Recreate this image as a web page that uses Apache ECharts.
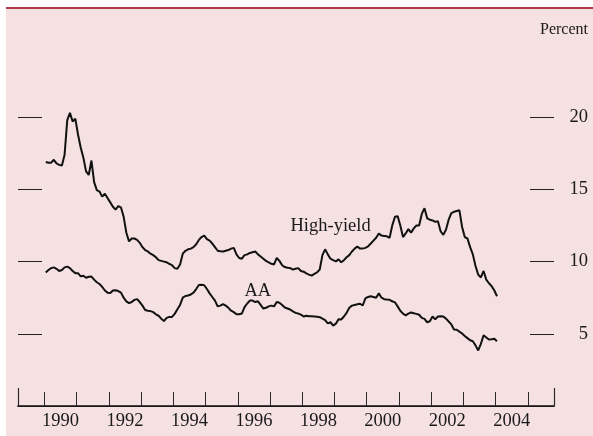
<!DOCTYPE html>
<html>
<head>
<meta charset="utf-8">
<script src="https://cdn.jsdelivr.net/npm/echarts@6/dist/echarts.min.js"></script>
<style>
  html, body { margin: 0; padding: 0; background: #ffffff; }
  #wrap { position: relative; width: 593px; height: 436px; background: #ffffff; overflow: hidden; }
  #panel { position: absolute; left: 6px; top: 7px; right: 0; bottom: 0; background: #f5e1e1; border-top: 2px solid #b13a4f; }
  #chart { position: absolute; left: 0; top: 0; width: 593px; height: 436px; }
</style>
</head>
<body>
<div id="wrap"><div id="panel"></div><div id="chart"></div></div>
<script>
// Monthly yields, percent, starting January 1990
const startYear = 1990;
const highYield = [
  16.9, 16.85, 16.85, 17.05, 16.8, 16.7, 16.65, 17.4, 19.8, 20.3, 19.7, 19.9,
  18.8, 17.9, 17.2, 16.25, 16.0, 17.0, 15.5, 14.95, 14.85, 14.5, 14.7, 14.4,
  14.1, 13.8, 13.6, 13.85, 13.75, 13.1, 12.0, 11.4, 11.6, 11.6, 11.5, 11.3,
  11.0, 10.8, 10.7, 10.55, 10.45, 10.3, 10.1, 10.05, 10.0, 9.95, 9.85, 9.75,
  9.55, 9.5, 9.8, 10.55, 10.75, 10.85, 10.9, 11.0, 11.2, 11.5, 11.7, 11.8,
  11.55, 11.45, 11.25, 11.0, 10.75, 10.72, 10.7, 10.75, 10.8, 10.9, 10.95, 10.5,
  10.25, 10.2, 10.45, 10.5, 10.6, 10.65, 10.7, 10.5, 10.35, 10.2, 10.05, 9.95,
  9.85, 9.8, 10.25, 10.05, 9.75, 9.62, 9.58, 9.55, 9.45, 9.5, 9.55, 9.35,
  9.3, 9.18, 9.1, 9.03, 9.15, 9.25, 9.45, 10.45, 10.85, 10.5, 10.2, 10.1,
  10.02, 10.15, 9.95, 10.1, 10.3, 10.45, 10.7, 10.9, 11.05, 10.9, 10.9, 10.95,
  11.05, 11.25, 11.45, 11.65, 11.95, 11.8, 11.78, 11.75, 11.65, 12.5, 13.1, 13.15,
  12.5, 11.7, 11.95, 12.25, 12.0, 12.3, 12.5, 12.5, 13.3, 13.7, 13.0, 12.9,
  12.85, 12.75, 12.8, 12.1, 11.85, 12.2, 12.9, 13.35, 13.45, 13.5, 13.55, 12.4,
  11.7, 11.6, 11.0, 10.5, 9.7, 9.1, 8.9, 9.35, 8.75, 8.5, 8.3, 8.0, 7.6
];
const aa = [
  9.25, 9.42, 9.55, 9.6, 9.5, 9.35, 9.42, 9.6, 9.65, 9.55, 9.35, 9.2,
  9.2, 8.98, 9.02, 8.88, 8.95, 8.96, 8.75, 8.57, 8.45, 8.25, 8.0, 7.85,
  7.82, 8.0, 8.02, 7.96, 7.85, 7.5, 7.25, 7.12, 7.2, 7.35, 7.4, 7.2,
  6.95, 6.65, 6.6, 6.57, 6.5, 6.35, 6.25, 6.05, 5.88, 6.1, 6.17, 6.17,
  6.38, 6.7, 7.0, 7.5, 7.62, 7.65, 7.72, 7.85, 8.1, 8.38, 8.4, 8.36,
  8.1, 7.8, 7.55, 7.3, 6.9, 6.95, 7.05, 6.95, 6.8, 6.6, 6.5, 6.35,
  6.35, 6.4, 6.85, 7.1, 7.3, 7.3, 7.2, 7.25, 7.0, 6.75, 6.8, 6.9,
  6.95, 6.9, 7.2, 7.15, 7.0, 6.82, 6.75, 6.68, 6.55, 6.45, 6.4, 6.33,
  6.2, 6.25, 6.22, 6.21, 6.2, 6.18, 6.15, 6.05, 5.95, 5.72, 5.8, 5.57,
  5.7, 6.0, 5.99, 6.2, 6.45, 6.8, 6.95, 7.0, 7.05, 7.08, 6.96, 7.45,
  7.55, 7.6, 7.55, 7.5, 7.8, 7.5, 7.4, 7.37, 7.35, 7.25, 7.18, 6.9,
  6.6, 6.4, 6.28, 6.4, 6.48, 6.42, 6.38, 6.32, 6.1, 6.03, 5.8, 5.87,
  6.2, 6.0, 6.2, 6.22, 6.2, 6.05, 5.85, 5.65, 5.3, 5.28, 5.15, 5.02,
  4.85, 4.7, 4.55, 4.48, 4.2, 3.85, 4.3, 4.9, 4.75, 4.6, 4.62, 4.65, 4.48
];
const xTickYears = [1990, 1991, 1992, 1993, 1994, 1995, 1996, 1997, 1998, 1999, 2000, 2001, 2002, 2003, 2004, 2005];
const xLabelYears = [1990, 1992, 1994, 1996, 1998, 2000, 2002, 2004];
const yTickValues = [5, 10, 15, 20];
const xMin = 1989.18, xMax = 2005.81;
const yMin = 0, yMax = 25, yStep = 5;

function toPairs(vals) {
  return vals.map((v, i) => [startYear + (i + 0.5) / 12, v]);
}

const FONT = '"Liberation Serif", "Times New Roman", serif';
const chart = echarts.init(document.getElementById('chart'), null, { renderer: 'canvas' });
chart.setOption({
  backgroundColor: 'transparent',
  animation: false,
  grid: { left: 18, right: 39, top: 45, bottom: 30, containLabel: false },
  xAxis: [
    {
      type: 'value', min: xMin, max: xMax, position: 'bottom',
      axisLine: { show: true, lineStyle: { color: '#2a2a2a', width: 1.2 } },
      axisTick: { show: true, inside: true, length: 14, customValues: xTickYears, lineStyle: { color: '#2a2a2a', width: 1 } },
      axisLabel: {
        show: true, margin: 6, customValues: xLabelYears.map(y => y + 0.5),
        formatter: v => String(xLabelYears.find(y => Math.abs(y + 0.5 - v) < 0.01)),
        fontFamily: FONT, fontSize: 18.5, color: '#1a1a1a'
      },
      splitLine: { show: false }
    },
    {
      type: 'value', min: xMin, max: xMax, position: 'top',
      axisLine: { show: true, lineStyle: { color: '#111', width: 1.5 } },
      axisTick: { show: false }, axisLabel: { show: false }, splitLine: { show: false }
    },
    {
      type: 'value', min: xMin, max: xMax, position: 'bottom',
      axisLine: { show: false },
      axisTick: { show: true, inside: true, length: 18, customValues: [xMin, xMax], lineStyle: { color: '#2a2a2a', width: 1.2 } },
      axisLabel: { show: false }, splitLine: { show: false }
    }
  ],
  yAxis: [
    {
      type: 'value', min: yMin, max: yMax, interval: yStep, position: 'left',
      axisLine: { show: false },
      axisTick: { show: true, inside: true, length: 24, customValues: yTickValues, lineStyle: { color: '#222', width: 1 } },
      axisLabel: { show: false }, splitLine: { show: false }
    },
    {
      type: 'value', min: yMin, max: yMax, interval: yStep, position: 'right',
      axisLine: { show: false },
      axisTick: { show: true, inside: true, length: 24, customValues: yTickValues, lineStyle: { color: '#222', width: 1 } },
      axisLabel: {
        show: true, customValues: yTickValues, align: 'right', margin: 34,
        fontFamily: FONT, fontSize: 18.5, color: '#1a1a1a'
      },
      splitLine: { show: false }
    }
  ],
  series: [
    {
      name: 'High-yield', type: 'line', xAxisIndex: 0, yAxisIndex: 0,
      data: toPairs(highYield), showSymbol: false, symbol: 'none',
      lineStyle: { color: '#111', width: 2 }, z: 5
    },
    {
      name: 'AA', type: 'line', xAxisIndex: 0, yAxisIndex: 0,
      data: toPairs(aa), showSymbol: false, symbol: 'none',
      lineStyle: { color: '#111', width: 2 }, z: 5
    }
  ],
  graphic: [
    { type: 'text', left: null, style: { x: 290.5, y: 226, text: 'High-yield', font: '18.5px ' + FONT, fill: '#1a1a1a', textAlign: 'left', textVerticalAlign: 'middle' } },
    { type: 'text', style: { x: 244.5, y: 291.5, text: 'AA', font: '18.5px ' + FONT, fill: '#1a1a1a', textAlign: 'left', textVerticalAlign: 'middle' } },
    { type: 'text', style: { x: 588, y: 30, text: 'Percent', font: '16px ' + FONT, fill: '#1a1a1a', textAlign: 'right', textVerticalAlign: 'middle' } }
  ]
});
</script>
</body>
</html>
